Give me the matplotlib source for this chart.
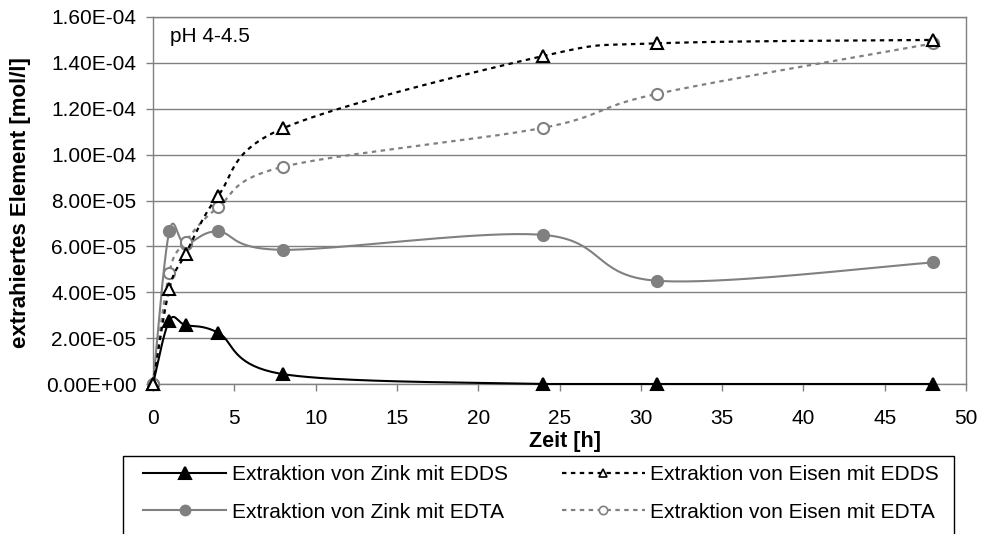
import numpy as np
import matplotlib
matplotlib.use("Agg")
import matplotlib.pyplot as plt
from matplotlib.ticker import FuncFormatter, MultipleLocator
from matplotlib.patches import Rectangle

plt.rcParams['font.family'] = ['Liberation Sans', 'DejaVu Sans']

# Extraction time in hours
zeit = [0, 1, 2, 4, 8, 24, 31, 48]

# Extracted element concentration [mol/l]
zink_edds = [0, 2.76e-5, 2.57e-5, 2.24e-5, 0.43e-5, 0, 0, 0]
eisen_edds = [0, 4.14e-5, 5.66e-5, 8.2e-5, 11.15e-5, 14.3e-5, 14.85e-5, 15.0e-5]
zink_edta = [0, 6.65e-5, 6.1e-5, 6.65e-5, 5.85e-5, 6.5e-5, 4.5e-5, 5.3e-5]
eisen_edta = [0, 4.85e-5, 6.2e-5, 7.7e-5, 9.47e-5, 11.17e-5, 12.65e-5, 14.85e-5]

labels = [
    "Extraktion von Zink mit EDDS",
    "Extraktion von Eisen mit EDDS",
    "Extraktion von Zink mit EDTA",
    "Extraktion von Eisen mit EDTA",
]

XMAX, YMAX = 50, 1.6e-4
GRAY = "#808080"

W, H = 981, 534
fig = plt.figure(figsize=(W / 100, H / 100), dpi=100)
ax = fig.add_axes([153 / W, 1 - 384 / H, 813 / W, 367 / H])

AX_W, AX_H = 813.0, 367.0


def smooth(x, y, n=40):
    """Bezier curve through the points with Catmull-Rom style tangents,
    computed in screen proportions so the shape follows the plot."""
    px = np.asarray(x, float) / XMAX * AX_W
    py = np.asarray(y, float) / YMAX * AX_H
    P = np.column_stack([px, py])
    m = len(P)
    out = [P[0]]
    s = np.linspace(0, 1, n)[1:, None]
    for i in range(m - 1):
        p0 = P[max(i - 1, 0)]
        p1 = P[i]
        p2 = P[i + 1]
        p3 = P[min(i + 2, m - 1)]
        c1 = p1 + (p2 - p0) / 6.0
        c2 = p2 - (p3 - p1) / 6.0
        seg = ((1 - s) ** 3) * p1 + 3 * ((1 - s) ** 2) * s * c1 + 3 * (1 - s) * s ** 2 * c2 + s ** 3 * p2
        out.extend(seg)
    out = np.array(out)
    return out[:, 0] / AX_W * XMAX, np.maximum(out[:, 1], 0) / AX_H * YMAX


dash = (0, (2, 2))
styles = [
    dict(y=zink_edds, color="black", ls="-", lw=1.5, marker="^", mfc="black", mec="black", ms=9),
    dict(y=eisen_edds, color="black", ls=dash, lw=1.6, marker="^", mfc="white", mec="black", ms=9),
    dict(y=zink_edta, color=GRAY, ls="-", lw=1.5, marker="o", mfc=GRAY, mec=GRAY, ms=8),
    dict(y=eisen_edta, color=GRAY, ls=dash, lw=1.6, marker="o", mfc="white", mec=GRAY, ms=8),
]

handles = []
zorders = {0: 6, 1: 7, 2: 4, 3: 5}
for idx in range(4):
    st = styles[idx]
    xs, ys = smooth(zeit, st["y"])
    ax.plot(xs, ys, color=st["color"], ls=st["ls"], lw=st["lw"],
            zorder=zorders[idx], clip_on=False)
    ax.plot(zeit, st["y"], ls="none", marker=st["marker"], mfc=st["mfc"],
            mec=st["mec"], ms=st["ms"], mew=1.5, zorder=zorders[idx] + 0.5,
            clip_on=False)
    h, = ax.plot([], [], color=st["color"], ls=st["ls"], lw=st["lw"],
                 marker=st["marker"], mfc=st["mfc"], mec=st["mec"],
                 ms=st["ms"], mew=1.5)
    handles.append(h)

ax.set_xlim(0, XMAX)
ax.set_ylim(0, YMAX)
ax.xaxis.set_major_locator(MultipleLocator(5))
ax.yaxis.set_major_locator(MultipleLocator(2e-5))
ax.yaxis.set_major_formatter(FuncFormatter(lambda v, p: f"{v:.2E}"))

ax.grid(axis="y", color=GRAY, lw=1.0, zorder=1)
ax.set_axisbelow(True)
for sp in ax.spines.values():
    sp.set_color(GRAY)
    sp.set_linewidth(1.0)

ax.tick_params(axis="both", direction="out", length=5, width=1.0, color=GRAY,
               labelsize=15, labelcolor="black")
ax.tick_params(axis="x", pad=13)
ax.tick_params(axis="y", pad=7)

ax.set_xlabel("Zeit [h]", fontsize=15.5, fontweight="bold")
ax.xaxis.set_label_coords(0.507, -0.128)
ax.set_ylabel("extrahiertes Element [mol/l]", fontsize=16, fontweight="bold")
ax.yaxis.set_label_coords(-0.150, 0.495)

ax.text(0.021, 0.948, "pH 4-4.5", transform=ax.transAxes, fontsize=15,
        ha="left", va="center")

# legend frame, running past the bottom edge
fig.add_artist(Rectangle((123 / W, -0.05), (954 - 123) / W, (1 - 456 / H) + 0.05,
                         transform=fig.transFigure, fill=False,
                         edgecolor="black", lw=1.0))

# column-wise fill: Zink entries left, Eisen entries right
order = [0, 2, 1, 3]
leg = fig.legend([handles[i] for i in order], [labels[i] for i in order],
                 ncol=2, loc="upper left",
                 bbox_to_anchor=(143 / W, 1 - 465 / H), frameon=False,
                 fontsize=15, handlelength=4.0, handletextpad=0.25,
                 columnspacing=2.6, labelspacing=0.9, borderpad=0,
                 borderaxespad=0, numpoints=1)
for lh, i in zip(leg.legend_handles, order):
    if i in (1, 3):
        lh.set_markersize(6)
        lh.set_markeredgewidth(1.2)
    elif i == 2:
        lh.set_markersize(7)

fig.savefig("out.png", dpi=100)
